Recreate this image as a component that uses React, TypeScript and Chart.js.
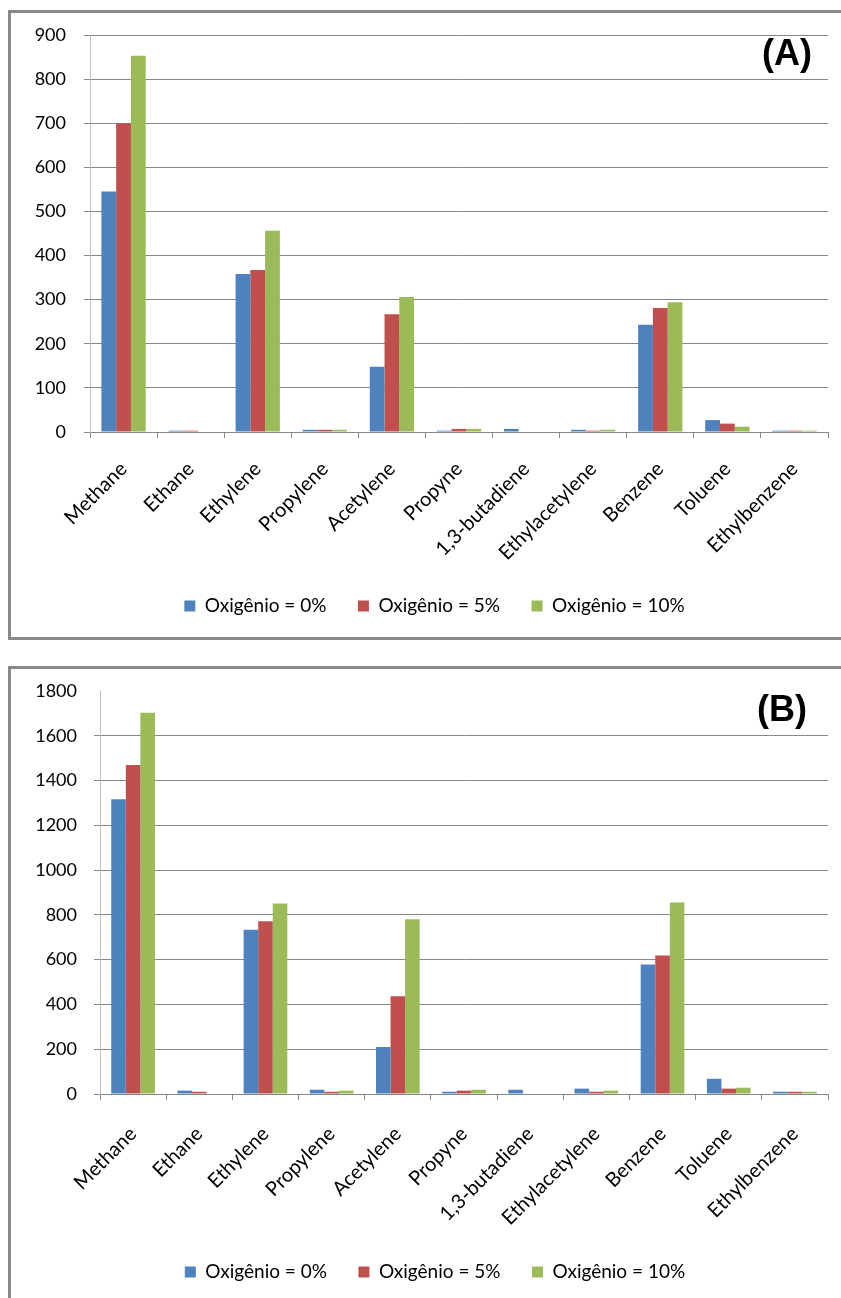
import React, { useEffect, useRef } from "react";
import { Chart, registerables } from "chart.js";

Chart.register(...registerables);

// ---- data ----
const categories = [
  "Methane",
  "Ethane",
  "Ethylene",
  "Propylene",
  "Acetylene",
  "Propyne",
  "1,3-butadiene",
  "Ethylacetylene",
  "Benzene",
  "Toluene",
  "Ethylbenzene",
];
const seriesLabels = ["Oxigênio = 0%", "Oxigênio = 5%", "Oxigênio = 10%"];
const seriesColors = ["#4F81BD", "#C0504D", "#9BBB59"];

// Panel (A)
const a0 = [545, 3, 358, 5, 148, 3, 7, 5, 243, 27, 3];
const a5 = [700, 3, 367, 5, 267, 7, 0, 3, 281, 19, 3];
const a10 = [853, 0, 456, 5, 306, 7, 0, 5, 294, 12, 3];

// Panel (B)
const b0 = [1316, 15, 734, 19, 210, 10, 19, 24, 578, 68, 10];
const b5 = [1469, 10, 772, 10, 437, 15, 0, 10, 619, 24, 10];
const b10 = [1703, 0, 851, 15, 781, 19, 0, 15, 855, 28, 10];

const yTicksA = { max: 900, step: 100 };
const yTicksB = { max: 1800, step: 200 };

const FONT = "Lato, 'Open Sans', sans-serif";
const GRID = "#878787";
const AXIS = "#BDBDBD";
const LEGEND_GAP = "    "; // spacing between legend entries

type PanelCfg = {
  series: number[][];
  yMax: number;
  yStep: number;
  hideTop: boolean;
  padTop: number;
  padBottom: number;
  yAxisW: number;
  rightW: number;
  xAxisH: number;
  xPad: number;
  yPad: number;
  width: number;
  height: number;
};

function BarPanel({ cfg, style }: { cfg: PanelCfg; style: React.CSSProperties }) {
  const ref = useRef<HTMLCanvasElement>(null);
  useEffect(() => {
    const baseGen = (Chart.defaults as any).plugins.legend.labels.generateLabels;
    const chart = new Chart(ref.current as HTMLCanvasElement, {
      type: "bar",
      data: {
        labels: categories,
        datasets: seriesLabels.map((label, i) => ({
          label,
          data: cfg.series[i],
          backgroundColor: seriesColors[i],
          borderWidth: 0,
          categoryPercentage: 0.66,
          barPercentage: 1,
          yAxisID: "y",
        })),
      },
      options: {
        responsive: false,
        animation: false,
        devicePixelRatio: 1,
        layout: {
          padding: { top: cfg.padTop, left: 0, right: 0, bottom: cfg.padBottom },
        },
        plugins: {
          legend: {
            position: "bottom",
            labels: {
              boxWidth: 11,
              boxHeight: 11,
              padding: 12,
              color: "#000",
              font: { family: FONT, size: 19 },
              generateLabels: (ch: any) =>
                baseGen(ch).map((l: any, i: number, arr: any[]) => ({
                  ...l,
                  text: i < arr.length - 1 ? l.text + LEGEND_GAP : l.text,
                })),
            },
          },
          tooltip: { enabled: false },
          title: { display: false },
        },
        scales: {
          x: {
            grid: {
              display: true,
              drawOnChartArea: false,
              drawTicks: true,
              tickLength: 6,
              color: GRID,
              offset: true,
            },
            border: { color: GRID },
            ticks: {
              autoSkip: false,
              minRotation: 45,
              maxRotation: 45,
              padding: cfg.xPad,
              color: "#000",
              font: { family: FONT, size: 20 },
            },
            afterFit: (s: any) => {
              s.height = cfg.xAxisH;
              s.paddingLeft = 0;
              s.paddingRight = 0;
            },
          },
          y: {
            min: 0,
            max: cfg.yMax,
            grid: {
              color: (c: any) =>
                cfg.hideTop && c.tick && c.tick.value === cfg.yMax ? "rgba(0,0,0,0)" : GRID,
              tickLength: 6,
            },
            border: { color: AXIS },
            ticks: {
              stepSize: cfg.yStep,
              padding: cfg.yPad,
              color: "#000",
              font: { family: FONT, size: 18 },
              callback: (v: any) => String(v),
            },
            afterFit: (s: any) => {
              s.width = cfg.yAxisW;
              s.paddingTop = 0;
              s.paddingBottom = 0;
            },
          },
          spacer: {
            type: "linear",
            position: "right",
            display: true,
            grid: { display: false, drawTicks: false },
            border: { display: false },
            ticks: { display: false },
            afterFit: (s: any) => {
              s.width = cfg.rightW;
              s.paddingTop = 0;
              s.paddingBottom = 0;
            },
          },
        },
      },
    } as any);
    return () => chart.destroy();
  }, []);
  return (
    <canvas
      ref={ref}
      width={cfg.width}
      height={cfg.height}
      style={{ position: "absolute", width: cfg.width, height: cfg.height, ...style }}
    />
  );
}

const cfgA: PanelCfg = {
  series: [a0, a5, a10],
  yMax: yTicksA.max,
  yStep: yTicksA.step,
  hideTop: false,
  padTop: 23,
  padBottom: 12.5,
  yAxisW: 80,
  rightW: 31,
  xAxisH: 152.5,
  xPad: 19,
  yPad: 18,
  width: 849,
  height: 626,
};

const cfgB: PanelCfg = {
  series: [b0, b5, b10],
  yMax: yTicksB.max,
  yStep: yTicksB.step,
  hideTop: true,
  padTop: 23,
  padBottom: 6.5,
  yAxisW: 90,
  rightW: 32,
  xAxisH: 156.5,
  xPad: 22,
  yPad: 17,
  width: 850,
  height: 630,
};

const boxStyle: React.CSSProperties = {
  position: "absolute",
  boxSizing: "border-box",
  border: "3px solid #898989",
  background: "#fff",
};

const titleStyle: React.CSSProperties = {
  position: "absolute",
  fontFamily: "'Liberation Sans', Arial, sans-serif",
  fontWeight: "bold",
  fontSize: 36,
  lineHeight: "36px",
  color: "#000",
  whiteSpace: "nowrap",
};

export default function App() {
  return (
    <div
      style={{
        position: "absolute",
        left: 0,
        top: 0,
        width: 841,
        height: 1298,
        overflow: "hidden",
        background: "#fff",
      }}
    >
      <div style={{ ...boxStyle, left: 8, top: 10, width: 845, height: 630 }} />
      <div style={{ ...boxStyle, left: 8, top: 666, width: 845, height: 700 }} />
      <BarPanel cfg={cfgA} style={{ left: 10, top: 12 }} />
      <BarPanel cfg={cfgB} style={{ left: 10, top: 668 }} />
      <div style={{ ...titleStyle, left: 762, top: 35 }}>(A)</div>
      <div style={{ ...titleStyle, left: 757, top: 691 }}>(B)</div>
    </div>
  );
}
